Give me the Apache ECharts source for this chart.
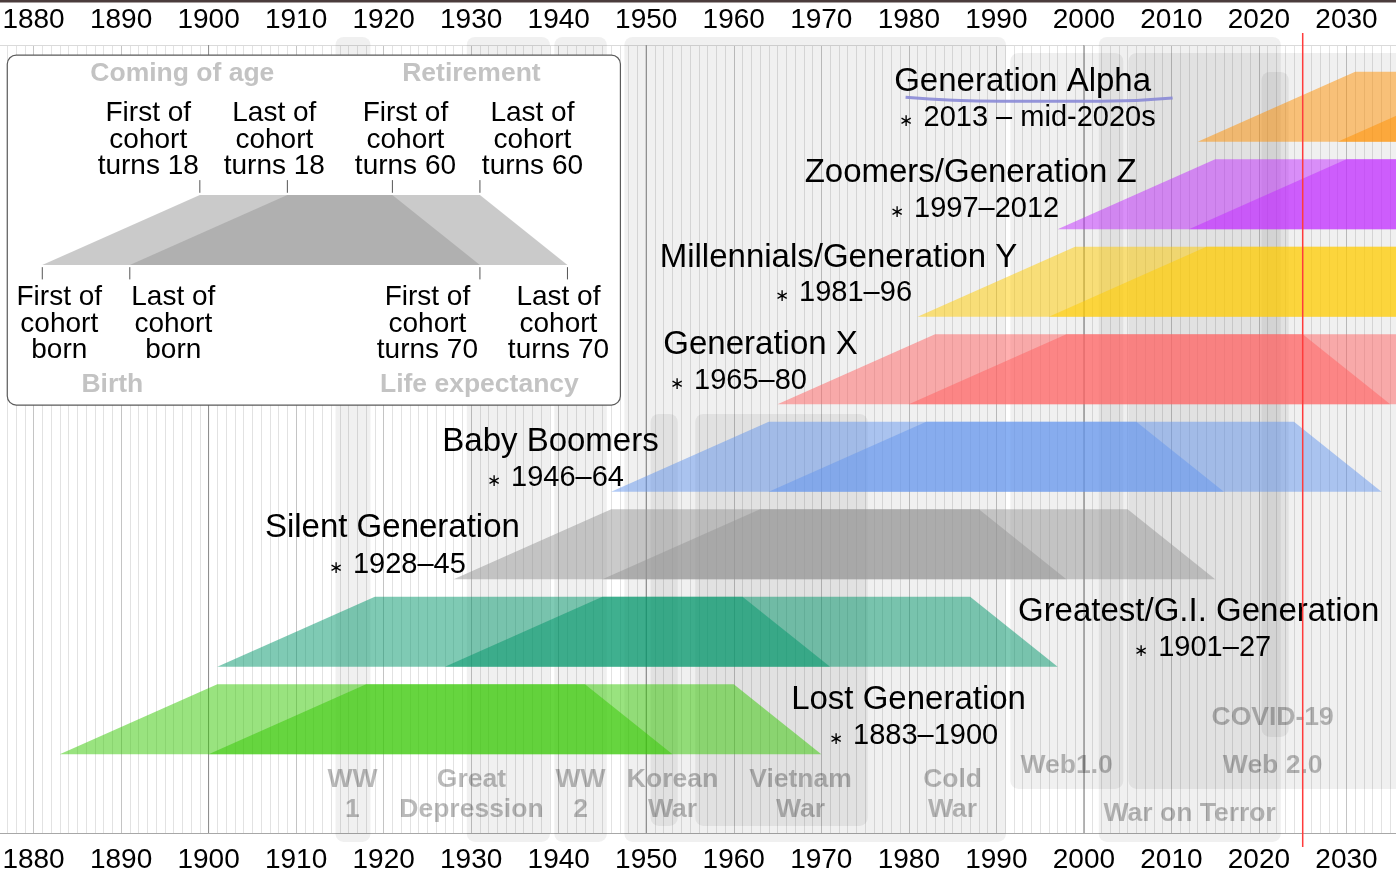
<!DOCTYPE html>
<html>
<head>
<meta charset="utf-8">
<title>Generations timeline</title>
<script src="https://cdn.jsdelivr.net/npm/echarts@6.0.0/dist/echarts.min.js"></script>
<style>
html, body { margin: 0; padding: 0; background: #fff; overflow: hidden; }
#wrap { position: relative; width: 1396px; height: 876px; overflow: hidden; }
/* the axis runs 1870-2040; the window shows about 1876-2036 */
#chart { position: absolute; left: -54.25px; top: 0; width: 1487.5px; height: 876px; }
</style>
</head>
<body>
<div id="wrap"><div id="chart"></div></div>
<script>
// ---- values ----
var tickYears = [1880, 1890, 1900, 1910, 1920, 1930, 1940, 1950, 1960, 1970, 1980, 1990, 2000, 2010, 2020, 2030];
var halfCenturyLines = [1900, 1950, 2000];
var currentYear = 2025;

var generations = ['Lost Generation', 'Greatest/G.I. Generation', 'Silent Generation', 'Baby Boomers',
	'Generation X', 'Millennials/Generation Y', 'Zoomers/Generation Z', 'Generation Alpha'];
var birthSpans = ['1883–1900', '1901–27', '1928–45', '1946–64', '1965–80', '1981–96', '1997–2012', '2013 – mid-2020s'];
var firstBorn = [1883, 1901, 1928, 1946, 1965, 1981, 1997, 2013];
var lastBorn = [1900, 1927, 1945, 1964, 1980, 1996, 2012, 2029];
// ages at: birth, coming of age, retirement, life expectancy
var stageAges = [0, 18, 60, 70];

var events = ['WW\n1', 'Great\nDepression', 'WW\n2', 'Cold\nWar', 'Korean\nWar', 'Vietnam\nWar',
	'Web1.0', 'War on Terror', 'Web 2.0', 'COVID-19'];
var eventStart = [1914.5, 1929.5, 1939.5, 1947.5, 1950.5, 1955.6, 1991.6, 2001.7, 2005.1, 2020.3];
var eventEnd = [1918.5, 1939.0, 1945.5, 1991.1, 1953.6, 1975.3, 2004.5, 2022.5, 2040, 2023.4];
var eventLane = ['war', 'war', 'war', 'war', 'inner', 'inner', 'web', 'war', 'web', 'covid'];

// legend: an example cohort, drawn not to scale
var legendBorn = [1881, 1891];
var legendAges = [0, 18, 40, 50];
var legendTop = ['First of\ncohort\nturns 18', 'Last of\ncohort\nturns 18', 'First of\ncohort\nturns 60', 'Last of\ncohort\nturns 60'];
var legendBottom = ['First of\ncohort\nborn', 'Last of\ncohort\nborn', 'First of\ncohort\nturns 70', 'Last of\ncohort\nturns 70'];
var legendStages = ['Coming of age', 'Retirement', 'Birth', 'Life expectancy'];

// ---- layout (years across, rows up) ----
var FONT = '"Liberation Sans", Arial, Helvetica, sans-serif';
var Y_MIN = -0.9006, Y_MAX = 8.1051;
var ROW_H = 0.8;
var TEXT_NUDGE = 2; // glyphs sit a little high when centred
var genColors = ['#33c800', '#00966a', '#969696', '#6495ed', '#ff6161', '#ffcc00', '#c22bff', '#ff9000'];
var lanes = { war: [-1.003, 8.197], web: [-0.397, 8.014], covid: [0.197, 7.797], inner: [-0.82, 3.888] };
var eventLabelAt = [[1916.43, -0.443], [1930.03, -0.443], [1942.49, -0.443], [1985.0, -0.443], [1953.0, -0.443],
	[1967.63, -0.443], [1998.03, -0.112], [2012.09, -0.661], [2021.57, -0.112], [2021.57, 0.437]];
var genNameAt = [[1979.97, 0.642], [2013.11, 1.648], [1921.0, 2.608], [1939.06, 3.591], [1963.06, 4.699],
	[1971.97, 5.694], [1987.06, 6.665], [1993.0, 7.705]];
var genSpanAt = [[1980.54, 0.231], [2013.57, 1.237], [1921.57, 2.185], [1939.63, 3.179], [1960.54, 4.288],
	[1972.54, 5.294], [1987.51, 6.254], [1993.57, 7.294]];
var legendRow = 5.591;
var legendFrame = [1877.0, 1947.05, 3.99, 7.99];
var legendTopAt = [[1893.11, 7.042], [1907.51, 7.042], [1922.49, 7.042], [1937.0, 7.042]];
var legendBottomAt = [[1882.94, 4.94], [1895.97, 4.94], [1925.0, 4.94], [1939.97, 4.94]];
var legendStageAt = [[1897.0, 7.797], [1930.03, 7.797], [1889.0, 4.242], [1930.94, 4.242]];
var underline = [[1979.63, 7.509], [1990.49, 7.462], [2001.91, 7.462], [2010.14, 7.5]];

function trapezoid(api, born, ages, row, fill) {
	var pts = [
		[born + ages[0], row],
		[born + ages[1], row + ROW_H],
		[born + ages[2], row + ROW_H],
		[born + ages[3], row]
	].map(function (p) { return api.coord(p); });
	return { type: 'polygon', shape: { points: pts }, style: { fill: fill, opacity: 0.5 } };
}

function vline(api, x, y0, y1, color, width) {
	var a = api.coord([x, y0]), b = api.coord([x, y1]);
	return { type: 'line', shape: { x1: a[0], y1: a[1], x2: b[0], y2: b[1] },
		style: { stroke: color, lineWidth: width } };
}

function textSeries(at, texts, style, z) {
	return {
		type: 'custom',
		z: z,
		silent: true,
		clip: false,
		data: at.map(function (p, i) { return [p[0], p[1], i]; }),
		renderItem: function (params, api) {
			var pt = api.coord([api.value(0), api.value(1)]);
			return {
				type: 'text',
				x: pt[0],
				y: pt[1] + TEXT_NUDGE,
				style: Object.assign({
					text: texts[api.value(2)],
					align: 'center',
					verticalAlign: 'middle',
					fontFamily: FONT
				}, style)
			};
		}
	};
}

function yearLabel(v) {
	return String(v);
}

var chart = echarts.init(document.getElementById('chart'), null, { renderer: 'canvas' });

var option = {
	backgroundColor: '#fff',
	animation: false,
	graphic: [{
		type: 'rect',
		shape: { x: 0, y: 0, width: 1487.5, height: 2.5 },
		style: { fill: '#4b3c3c' },
		z: 100
	}],
	grid: { left: 0, right: 0, top: 45, bottom: 43 },
	xAxis: [{
		type: 'value',
		position: 'top',
		min: 1870,
		max: 2040,
		interval: 10,
		axisLine: { show: true, onZero: false, lineStyle: { color: '#dadada', width: 1 } },
		axisTick: { show: false },
		axisLabel: { customValues: tickYears, formatter: yearLabel, fontSize: 28, color: '#000', fontFamily: FONT, margin: 11 },
		splitLine: { show: true, lineStyle: { color: '#c4c4c4', width: 1 } },
		minorTick: { show: false, splitNumber: 10 },
		minorSplitLine: { show: true, lineStyle: { color: '#e2e2e2', width: 1 } }
	}, {
		type: 'value',
		position: 'bottom',
		min: 1870,
		max: 2040,
		interval: 10,
		axisLine: { show: true, onZero: false, lineStyle: { color: '#a8a8a8', width: 1.2 } },
		axisTick: { show: false },
		axisLabel: { customValues: tickYears, formatter: yearLabel, fontSize: 28, color: '#000', fontFamily: FONT, margin: 13 },
		splitLine: { show: false }
	}],
	yAxis: { type: 'value', min: Y_MIN, max: Y_MAX, show: false },
	series: [
		// half-century grid lines
		{
			type: 'custom',
			z: 1,
			silent: true,
			data: halfCenturyLines.map(function (y) { return [y, 0]; }),
			renderItem: function (params, api) {
				return vline(api, api.value(0), Y_MIN, Y_MAX, '#8c8c8c', 1);
			}
		},
		// historical events
		{
			type: 'custom',
			z: 1,
			silent: true,
			clip: false,
			data: events.map(function (e, i) { return [eventStart[i], eventEnd[i], i]; }),
			renderItem: function (params, api) {
				var lane = lanes[eventLane[api.value(2)]];
				var p0 = api.coord([api.value(0), lane[1]]),
					p1 = api.coord([api.value(1), lane[0]]);
				return {
					type: 'rect',
					shape: { x: p0[0], y: p0[1], width: p1[0] - p0[0], height: p1[1] - p0[1], r: 8 },
					style: { fill: 'rgba(0,0,0,0.06)' }
				};
			}
		},
		textSeries(eventLabelAt, events, {
			fontSize: 26.5, fontWeight: 'bold', lineHeight: 30, fill: 'rgba(0,0,0,0.27)'
		}, 2),
		// generations: first-born and last-born cohorts overlap
		{
			type: 'custom',
			z: 3,
			silent: true,
			clip: false,
			data: firstBorn.map(function (f, i) { return [f, i, lastBorn[i]]; }),
			renderItem: function (params, api) {
				var row = api.value(1), col = genColors[row];
				return {
					type: 'group',
					children: [
						trapezoid(api, api.value(0), stageAges, row, col),
						trapezoid(api, api.value(2), stageAges, row, col)
					]
				};
			}
		},
		// legend frame
		{
			type: 'custom',
			z: 4,
			silent: true,
			clip: false,
			data: [legendFrame],
			renderItem: function (params, api) {
				var p0 = api.coord([api.value(0), api.value(3)]),
					p1 = api.coord([api.value(1), api.value(2)]);
				return {
					type: 'rect',
					shape: { x: p0[0], y: p0[1], width: p1[0] - p0[0], height: p1[1] - p0[1], r: 9 },
					style: { fill: '#fff', stroke: '#5a5a5a', lineWidth: 1.2 }
				};
			}
		},
		// legend example cohort
		{
			type: 'custom',
			z: 5,
			silent: true,
			clip: false,
			data: [[legendBorn[0], legendBorn[1]]],
			renderItem: function (params, api) {
				var b0 = api.value(0), b1 = api.value(1), kids = [
					trapezoid(api, b0, legendAges, legendRow, '#969696'),
					trapezoid(api, b1, legendAges, legendRow, '#969696')
				];
				var top = legendRow + ROW_H;
				[b0 + legendAges[1], b1 + legendAges[1], b0 + legendAges[2], b1 + legendAges[2]].forEach(function (x) {
					kids.push(vline(api, x, top + 0.025, top + 0.17, '#555', 1));
				});
				[b0, b1, b0 + legendAges[3], b1 + legendAges[3]].forEach(function (x) {
					kids.push(vline(api, x, legendRow - 0.025, legendRow - 0.165, '#555', 1));
				});
				return { type: 'group', children: kids };
			}
		},
		textSeries(legendTopAt, legendTop, { fontSize: 28, lineHeight: 26.5, fill: '#000' }, 6),
		textSeries(legendBottomAt, legendBottom, { fontSize: 28, lineHeight: 26.5, fill: '#000' }, 6),
		textSeries(legendStageAt, legendStages, { fontSize: 26.5, fontWeight: 'bold', fill: '#c3c3c3' }, 6),
		// generation labels
		textSeries(genNameAt, generations, { fontSize: 33, fill: '#000' }, 7),
		textSeries(genSpanAt, birthSpans.map(function (s) { return '{s|∗} ' + s; }), {
			fontSize: 29, fill: '#000',
			rich: { s: { fontSize: 17, fontFamily: FONT, fill: '#000', padding: [7, 2, 0, 0] } }
		}, 7),
		// pen underline under Generation Alpha
		{
			type: 'line',
			z: 8,
			silent: true,
			smooth: 0.5,
			symbol: 'none',
			data: underline,
			lineStyle: { color: '#8a8ad6', width: 3, opacity: 0.9 }
		},
		// current year
		{
			type: 'custom',
			z: 9,
			silent: true,
			clip: false,
			data: [[currentYear, 0]],
			renderItem: function (params, api) {
				return vline(api, api.value(0), 8.243, -1.06, '#ff3b3b', 1.5);
			}
		}
	]
};

chart.setOption(option);
</script>
</body>
</html>
